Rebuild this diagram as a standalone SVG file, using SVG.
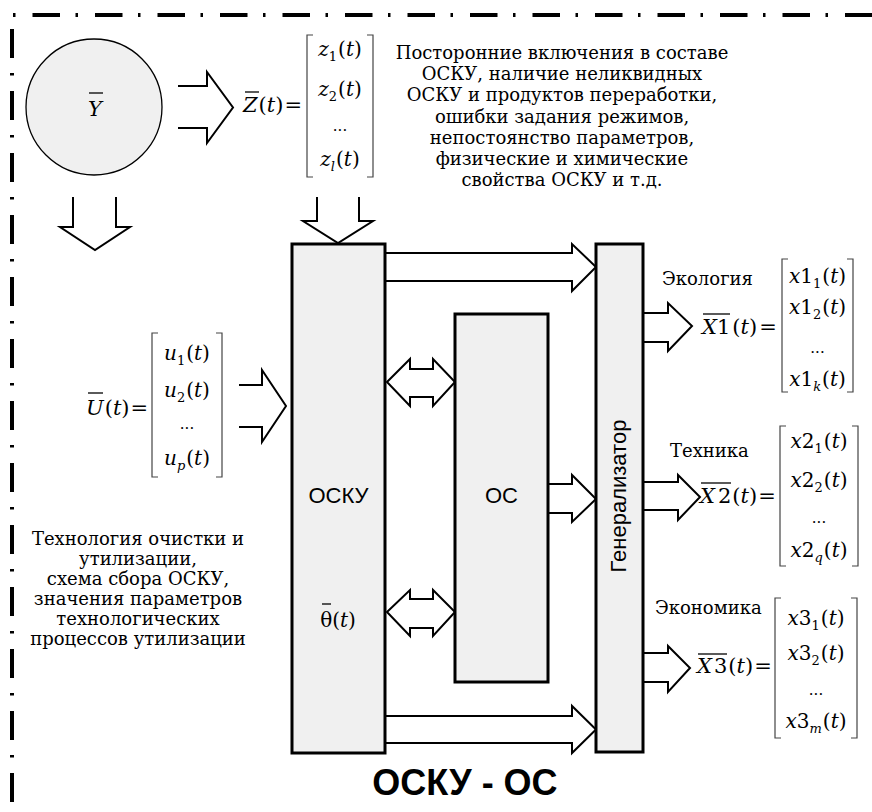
<svg xmlns="http://www.w3.org/2000/svg" width="872" height="812" viewBox="0 0 872 812">
<style>
.border{fill:none;stroke:#000;stroke-width:4}
.box{fill:#f0f0f0;stroke:#000;stroke-width:3}
.arr{fill:#fff;stroke:#000;stroke-width:2;stroke-linejoin:miter}
.br{fill:none;stroke:#444;stroke-width:1.2}
.serif{font-family:'DejaVu Serif',serif;fill:#000}
.t{font-size:18px}
.m{font-size:20px}
.h{font-size:21px}
.i{font-style:italic}
.s{font-size:13px}
.d{font-size:15px}
.sans{font-family:'Liberation Sans',Arial,sans-serif;font-size:22px;fill:#000}
.bar{stroke:#000;stroke-width:1.3}
</style>
<rect width="872" height="812" fill="#fff"/>
<g id="border">
<line class="border" x1="13" y1="15" x2="872" y2="15" stroke-dasharray="2.5 17 27.5 15.5"/>
<line class="border" x1="12" y1="29" x2="12" y2="812" stroke-dasharray="29 15 2.5 15.5"/>
</g>
<g id="connectors">
<polyline class="arr" points="178,86 207,86 207,72 233,107.5 207,143 207,128 178,128"/>
<polyline class="arr" points="73,197 73,227 60,227 95,250 130,227 116,227 116,197"/>
<polyline class="arr" points="317,197 317,221 303,221 338,243 373,221 359,221 359,197"/>
<polyline class="arr" points="239,385 262,385 262,370 286,406 262,442 262,427 239,427"/>
<polyline class="arr" points="386,253 572,253 572,244 596,267 572,291 572,281 386,281"/>
<polyline class="arr" points="386,716 572,716 572,706 596,729.5 572,753 572,743 386,743"/>
<polyline class="arr" points="549,484 572,484 572,475 596,499 572,522 572,513 549,513"/>
<polygon class="arr" points="387,382 410,359 410,369 433,369 433,359 455,382 433,406 433,397 410,397 410,406"/>
<polygon class="arr" points="387,612 410,590 410,599 433,599 433,590 455,612 433,636 433,628 410,628 410,636"/>
<polyline class="arr" points="644,313 668,313 668,303 692,326 668,351 668,342 644,342"/>
<polyline class="arr" points="644,482 678,482 678,475 700,497 678,520 678,510 644,510"/>
<polyline class="arr" points="644,653 668,653 668,646 690,668 668,692 668,682 644,682"/>
</g>
<g id="Y">
<circle cx="94" cy="107" r="68" fill="#f0f0f0" stroke="#000" stroke-width="1.3"/>
<text class="serif h i" x="95" y="116" text-anchor="middle">Y</text>
<line class="bar" x1="89" y1="93" x2="103" y2="93"/>
</g>
<g id="Z" class="serif">
<text class="h" x="243" y="112"><tspan class="i">Z</tspan><tspan dx="1">(</tspan><tspan class="i">t</tspan>)<tspan dx="1">=</tspan></text>
<line class="bar" x1="245" y1="92" x2="259" y2="92"/>
<path class="br" d="M313,35 H307 V177 H313 M367,35 H373 V177 H367"/>
<text class="m" x="340" y="56" text-anchor="middle"><tspan class="i">z</tspan><tspan class="s" dy="5">1</tspan><tspan dy="-5" dx="1">(</tspan><tspan class="i">t</tspan>)</text>
<text class="m" x="340" y="96" text-anchor="middle"><tspan class="i">z</tspan><tspan class="s" dy="5">2</tspan><tspan dy="-5" dx="1">(</tspan><tspan class="i">t</tspan>)</text>
<text class="d" x="340" y="131" text-anchor="middle">...</text>
<text class="m" x="340" y="166" text-anchor="middle"><tspan class="i">z</tspan><tspan class="s i" dy="5">l</tspan><tspan dy="-5" dx="1">(</tspan><tspan class="i">t</tspan>)</text>
</g>
<g id="disturb-text" class="serif">
<text class="t" text-anchor="middle"><tspan x="562" y="59">Посторонние включения в составе</tspan><tspan x="562" y="80">ОСКУ, наличие неликвидных</tspan><tspan x="562" y="101">ОСКУ и продуктов переработки,</tspan><tspan x="562" y="123">ошибки задания режимов,</tspan><tspan x="562" y="144">непостоянство параметров,</tspan><tspan x="562" y="165">физические и химические</tspan><tspan x="562" y="186">свойства ОСКУ и т.д.</tspan></text>
</g>
<g id="U" class="serif">
<text class="h" x="86" y="415"><tspan class="i">U</tspan><tspan dx="1">(</tspan><tspan class="i">t</tspan>)<tspan dx="1">=</tspan></text>
<line class="bar" x1="88" y1="393" x2="103" y2="393"/>
<path class="br" d="M158,333 H152 V477 H158 M216,333 H222 V477 H216"/>
<text class="m" x="187" y="360" text-anchor="middle"><tspan class="i">u</tspan><tspan class="s" dy="5">1</tspan><tspan dy="-5" dx="1">(</tspan><tspan class="i">t</tspan>)</text>
<text class="m" x="187" y="397" text-anchor="middle"><tspan class="i">u</tspan><tspan class="s" dy="5">2</tspan><tspan dy="-5" dx="1">(</tspan><tspan class="i">t</tspan>)</text>
<text class="d" x="187" y="429" text-anchor="middle">...</text>
<text class="m" x="187" y="465" text-anchor="middle"><tspan class="i">u</tspan><tspan class="s i" dy="5">p</tspan><tspan dy="-5" dx="1">(</tspan><tspan class="i">t</tspan>)</text>
</g>
<g id="tech-text" class="serif">
<text class="t" text-anchor="middle"><tspan x="138" y="545">Технология очистки и</tspan><tspan x="138" y="565">утилизации,</tspan><tspan x="138" y="585">схема сбора ОСКУ,</tspan><tspan x="138" y="605">значения параметров</tspan><tspan x="138" y="625">технологических</tspan><tspan x="138" y="645">процессов утилизации</tspan></text>
</g>
<g id="OSKU">
<rect class="box" x="292" y="244" width="93" height="509"/>
<text class="sans" x="338.5" y="503" text-anchor="middle">ОСКУ</text>
<text class="serif m" x="338" y="627" text-anchor="middle">θ(<tspan class="i">t</tspan>)</text>
<line class="bar" x1="322" y1="604" x2="331" y2="604"/>
</g>
<g id="OS">
<rect class="box" x="455" y="314" width="93" height="368"/>
<text class="sans" x="501.5" y="503" text-anchor="middle">ОС</text>
</g>
<g id="Gen">
<rect class="box" x="596" y="244" width="47" height="508"/>
<text class="sans" transform="translate(626,496) rotate(-90)" text-anchor="middle">Генерализатор</text>
</g>
<g id="X1" class="serif">
<text class="t" x="662" y="285">Экология</text>
<text class="h" x="702" y="334"><tspan class="i">X</tspan>1<tspan dx="2">(</tspan><tspan class="i">t</tspan>)<tspan dx="2">=</tspan></text>
<line class="bar" x1="703" y1="314" x2="730" y2="314"/>
<path class="br" d="M788,259 H782 V392 H788 M847,259 H853 V392 H847"/>
<text class="m" x="817.5" y="283" text-anchor="middle"><tspan class="i">x</tspan>1<tspan class="s" dy="5">1</tspan><tspan dy="-5" dx="1">(</tspan><tspan class="i">t</tspan>)</text>
<text class="m" x="817.5" y="314" text-anchor="middle"><tspan class="i">x</tspan>1<tspan class="s" dy="5">2</tspan><tspan dy="-5" dx="1">(</tspan><tspan class="i">t</tspan>)</text>
<text class="d" x="817.5" y="353" text-anchor="middle">...</text>
<text class="m" x="817.5" y="386" text-anchor="middle"><tspan class="i">x</tspan>1<tspan class="s i" dy="5">k</tspan><tspan dy="-5" dx="1">(</tspan><tspan class="i">t</tspan>)</text>
</g>
<g id="X2" class="serif">
<text class="t" x="670" y="457">Техника</text>
<text class="h" x="700" y="503"><tspan class="i">X</tspan><tspan dx="3">2</tspan><tspan dx="1">(</tspan><tspan class="i">t</tspan>)<tspan dx="1">=</tspan></text>
<line class="bar" x1="701" y1="483" x2="731" y2="483"/>
<path class="br" d="M786,426 H780 V566 H786 M852,426 H858 V566 H852"/>
<text class="m" x="819" y="448" text-anchor="middle"><tspan class="i">x</tspan>2<tspan class="s" dy="5">1</tspan><tspan dy="-5" dx="1">(</tspan><tspan class="i">t</tspan>)</text>
<text class="m" x="819" y="487" text-anchor="middle"><tspan class="i">x</tspan>2<tspan class="s" dy="5">2</tspan><tspan dy="-5" dx="1">(</tspan><tspan class="i">t</tspan>)</text>
<text class="d" x="819" y="523" text-anchor="middle">...</text>
<text class="m" x="819" y="557" text-anchor="middle"><tspan class="i">x</tspan>2<tspan class="s i" dy="5">q</tspan><tspan dy="-5" dx="1">(</tspan><tspan class="i">t</tspan>)</text>
</g>
<g id="X3" class="serif">
<text class="t" x="655" y="614">Экономика</text>
<text class="h" x="697" y="673"><tspan class="i">X</tspan><tspan dx="2">3</tspan><tspan dx="1">(</tspan><tspan class="i">t</tspan>)<tspan dx="1">=</tspan></text>
<line class="bar" x1="698" y1="654" x2="727" y2="654"/>
<path class="br" d="M781,598 H775 V738 H781 M851,598 H857 V738 H851"/>
<text class="m" x="816" y="625" text-anchor="middle"><tspan class="i">x</tspan>3<tspan class="s" dy="5">1</tspan><tspan dy="-5" dx="1">(</tspan><tspan class="i">t</tspan>)</text>
<text class="m" x="816" y="660" text-anchor="middle"><tspan class="i">x</tspan>3<tspan class="s" dy="5">2</tspan><tspan dy="-5" dx="1">(</tspan><tspan class="i">t</tspan>)</text>
<text class="d" x="816" y="695" text-anchor="middle">...</text>
<text class="m" x="816" y="728" text-anchor="middle"><tspan class="i">x</tspan>3<tspan class="s i" dy="5">m</tspan><tspan dy="-5" dx="1">(</tspan><tspan class="i">t</tspan>)</text>
</g>
<g id="title">
<text x="465" y="795" text-anchor="middle" font-family="'Liberation Sans',Arial,sans-serif" font-size="36" font-weight="bold">ОСКУ - ОС</text>
</g>
</svg>
